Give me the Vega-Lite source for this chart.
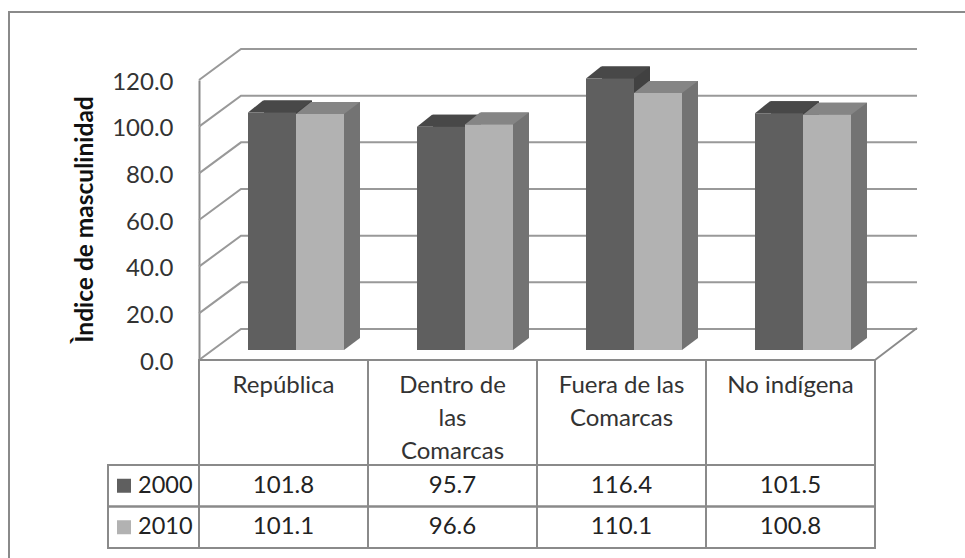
{
"$schema":"https://vega.github.io/schema/vega-lite/v6.json",
"width":965,"height":558,"padding":0,"autosize":{"type":"none"},
"background":"white",
"config":{"view":{"stroke":null},"font":"Lato","text":{"font":"Lato"}},
"datasets":{
"bars":[
{"cat":"República","year":"2000","value":101.8},{"cat":"República","year":"2010","value":101.1},
{"cat":"Dentro de las Comarcas","year":"2000","value":95.7},{"cat":"Dentro de las Comarcas","year":"2010","value":96.6},
{"cat":"Fuera de las Comarcas","year":"2000","value":116.4},{"cat":"Fuera de las Comarcas","year":"2010","value":110.1},
{"cat":"No indígena","year":"2000","value":101.5},{"cat":"No indígena","year":"2010","value":100.8}],
"ticks":[{"v":0},{"v":20},{"v":40},{"v":60},{"v":80},{"v":100},{"v":120}],
"cats":[{"cat":"República"},{"cat":"Dentro de las Comarcas"},{"cat":"Fuera de las Comarcas"},{"cat":"No indígena"}],
"lines":[
{"cat":"República","line":"l1","text":"República"},
{"cat":"Dentro de las Comarcas","line":"l1","text":"Dentro de"},
{"cat":"Dentro de las Comarcas","line":"l2","text":"las"},
{"cat":"Dentro de las Comarcas","line":"l3","text":"Comarcas"},
{"cat":"Fuera de las Comarcas","line":"l1","text":"Fuera de las"},
{"cat":"Fuera de las Comarcas","line":"l2","text":"Comarcas"},
{"cat":"No indígena","line":"l1","text":"No indígena"}],
"years":[{"year":"2000"},{"year":"2010"}]
},
"layer":[
{"data":{"values":[{"edge":"a"},{"edge":"b"}]},"mark":{"type":"line","color":"#8a8a8a","strokeWidth":2},
 "encoding":{"x":{"field":"edge","type":"ordinal","axis":null,"scale":{"type":"point","padding":0,"domain":["a","b"],"range":[8,965]}},"y":{"datum":"top","type":"ordinal","axis":null,"scale":{"type":"point","padding":0,"domain":["top"],"range":[12,12]}}}},
{"data":{"values":[{"edge":"a"},{"edge":"b"}]},"mark":{"type":"line","color":"#8a8a8a","strokeWidth":2},
 "encoding":{"y":{"field":"edge","type":"ordinal","axis":null,"scale":{"type":"point","padding":0,"domain":["a","b"],"range":[11,558]}},"x":{"datum":"left","type":"ordinal","axis":null,"scale":{"type":"point","padding":0,"domain":["left"],"range":[9,9]}}}},
{"data":{"name":"ticks"},"mark":{"type":"point","shape":"M0,0L42,-31L718,-31","size":4,"filled":false,"stroke":"#999999","strokeWidth":2,"opacity":1},
 "encoding":{"x":{"datum":"start","type":"ordinal","axis":null,"scale":{"type":"point","padding":0,"domain":["start"],"range":[199,199]}},
 "y":{"field":"v","type":"quantitative","scale":{"domain":[0,120],"range":[360,80]},
  "axis":{"values":[0,20,40,60,80,100,120],"format":".1f","offset":-199,"grid":false,"ticks":false,"domain":true,"domainColor":"#8a8a8a","domainWidth":2,"labelFont":"Lato","labelFontSize":24,"labelColor":"#333333","labelPadding":26,"labelOffset":2,"title":"Ìndice de masculinidad","titleFont":"Lato","titleFontSize":24.5,"titleFontWeight":"bold","titleColor":"#111111","titleX":-102,"titleY":219}}}},
{"data":{"values":[{"edge":"a"}]},"mark":{"type":"point","shape":"M0,0L42,-32","size":4,"filled":false,"stroke":"#8a8a8a","strokeWidth":2,"opacity":1},
 "encoding":{"x":{"datum":"end","type":"ordinal","axis":null,"scale":{"type":"point","padding":0,"domain":["end"],"range":[875,875]}},"y":{"datum":0,"type":"quantitative","axis":null,"scale":{"domain":[0,120],"range":[360,80]}}}},

{"data":{"name":"bars"},"mark":{"type":"point","shape":"M24,0L24,-12L40,-12Z","size":4,"filled":true,"opacity":1,"strokeWidth":0},
 "encoding":{"x":{"field":"cat","type":"nominal","sort":null,"axis":null,"scale":{"type":"band","padding":0,"domain":["República","Dentro de las Comarcas","Fuera de las Comarcas","No indígena"],"range":[199,875]}},
 "xOffset":{"field":"year","type":"nominal","scale":{"domain":["2000","2010"],"range":[49,145]}},
 "y":{"datum":0,"type":"quantitative","axis":null,"scale":{"domain":[0,120],"range":[350,70]}},
 "fill":{"field":"year","type":"nominal","legend":null,"scale":{"domain":["2000","2010"],"range":["#414141","#737373"]}}}},
{"data":{"name":"bars"},"mark":{"type":"bar"},
 "encoding":{"x":{"field":"cat","type":"nominal","sort":null,"axis":null,"scale":{"type":"band","padding":0,"domain":["República","Dentro de las Comarcas","Fuera de las Comarcas","No indígena"],"range":[199,875]}},
 "xOffset":{"field":"year","type":"nominal","scale":{"domain":["2000","2010"],"range":[65,161]}},
 "y":{"field":"value","type":"quantitative","axis":null,"scale":{"domain":[0,120],"range":[338,58]}},
 "fill":{"field":"year","type":"nominal","legend":null,"scale":{"domain":["2000","2010"],"range":["#414141","#737373"]}}}},
{"data":{"name":"bars"},"mark":{"type":"point","shape":"M-24,0L-9,-12L40,-12L24,0Z","size":4,"filled":true,"opacity":1,"strokeWidth":0},
 "encoding":{"x":{"field":"cat","type":"nominal","sort":null,"axis":null,"scale":{"type":"band","padding":0,"domain":["República","Dentro de las Comarcas","Fuera de las Comarcas","No indígena"],"range":[199,875]}},
 "xOffset":{"field":"year","type":"nominal","scale":{"domain":["2000","2010"],"range":[49,145]}},
 "y":{"field":"value","type":"quantitative","axis":null,"scale":{"domain":[0,120],"range":[350,70]}},
 "fill":{"field":"year","type":"nominal","legend":null,"scale":{"domain":["2000","2010"],"range":["#484848","#858585"]}}}},
{"data":{"name":"bars"},"mark":{"type":"bar"},
 "encoding":{"x":{"field":"cat","type":"nominal","sort":null,"axis":null,"scale":{"type":"band","padding":0,"domain":["República","Dentro de las Comarcas","Fuera de las Comarcas","No indígena"],"range":[199,875]}},
 "xOffset":{"field":"year","type":"nominal","scale":{"domain":["2000","2010"],"range":[49,145]}},
 "y":{"field":"value","type":"quantitative","axis":null,"scale":{"domain":[0,120],"range":[350,70]}},
 "fill":{"field":"year","type":"nominal","legend":null,"scale":{"domain":["2000","2010"],"range":["#5f5f5f","#b2b2b2"]}}}},

{"data":{"name":"cats"},"mark":{"type":"rect","fillOpacity":0,"stroke":"#8a8a8a","strokeWidth":2},
 "encoding":{"x":{"field":"cat","type":"nominal","sort":null,"axis":null,"scale":{"type":"band","padding":0,"domain":["República","Dentro de las Comarcas","Fuera de las Comarcas","No indígena"],"range":[199,875]}},
 "y":{"datum":"labels","type":"nominal","axis":null,"scale":{"type":"band","padding":0,"domain":["labels"],"range":[360,465]}}}},
{"data":{"name":"bars"},"mark":{"type":"rect","fillOpacity":0,"stroke":"#8a8a8a","strokeWidth":2},
 "encoding":{"x":{"field":"cat","type":"nominal","sort":null,"axis":null,"scale":{"type":"band","padding":0,"domain":["República","Dentro de las Comarcas","Fuera de las Comarcas","No indígena"],"range":[199,875]}},
 "y":{"field":"year","type":"nominal","axis":null,"scale":{"type":"band","padding":0,"domain":["2000","2010"],"range":[465,548]}}}},
{"data":{"name":"years"},"mark":{"type":"rect","fillOpacity":0,"stroke":"#8a8a8a","strokeWidth":2},
 "encoding":{"x":{"datum":"header","type":"nominal","axis":null,"scale":{"type":"band","padding":0,"domain":["header"],"range":[108,199]}},
 "y":{"field":"year","type":"nominal","axis":null,"scale":{"type":"band","padding":0,"domain":["2000","2010"],"range":[465,548]}}}},
{"data":{"name":"years"},"mark":{"type":"point","shape":"square","filled":true,"size":196,"opacity":1,"strokeWidth":0},
 "encoding":{"x":{"datum":"key","type":"nominal","axis":null,"scale":{"type":"point","padding":0,"domain":["key"],"range":[124,124]}},
 "y":{"field":"year","type":"nominal","axis":null,"scale":{"type":"band","padding":0,"domain":["2000","2010"],"range":[465,548]}},
 "fill":{"field":"year","type":"nominal","legend":null,"scale":{"domain":["2000","2010"],"range":["#5f5f5f","#b2b2b2"]}}}},
{"data":{"name":"years"},"mark":{"type":"text","font":"Lato","fontSize":23.5,"color":"#222222","align":"left"},
 "encoding":{"x":{"datum":"label","type":"nominal","axis":null,"scale":{"type":"point","padding":0,"domain":["label"],"range":[138,138]}},
 "y":{"field":"year","type":"nominal","axis":null,"scale":{"type":"band","padding":0,"domain":["2000","2010"],"range":[465,548]}},
 "text":{"field":"year"}}},
{"data":{"name":"bars"},"mark":{"type":"text","font":"Lato","fontSize":24,"color":"#222222"},
 "encoding":{"x":{"field":"cat","type":"nominal","sort":null,"axis":null,"scale":{"type":"band","padding":0,"domain":["República","Dentro de las Comarcas","Fuera de las Comarcas","No indígena"],"range":[199,875]}},
 "y":{"field":"year","type":"nominal","axis":null,"scale":{"type":"band","padding":0,"domain":["2000","2010"],"range":[465,548]}},
 "text":{"field":"value","type":"quantitative","format":".1f"}}},
{"data":{"name":"lines"},"mark":{"type":"text","font":"Lato","fontSize":24,"color":"#333333"},
 "encoding":{"x":{"field":"cat","type":"nominal","sort":null,"axis":null,"scale":{"type":"band","padding":0,"domain":["República","Dentro de las Comarcas","Fuera de las Comarcas","No indígena"],"range":[199,875]}},
 "y":{"field":"line","type":"ordinal","axis":null,"scale":{"type":"point","padding":0,"domain":["l1","l2","l3"],"range":[386,452]}},
 "text":{"field":"text"}}}
],
"resolve":{"scale":{"x":"independent","y":"independent","fill":"independent","xOffset":"independent"},"axis":{"y":"independent","x":"independent"}}
}
